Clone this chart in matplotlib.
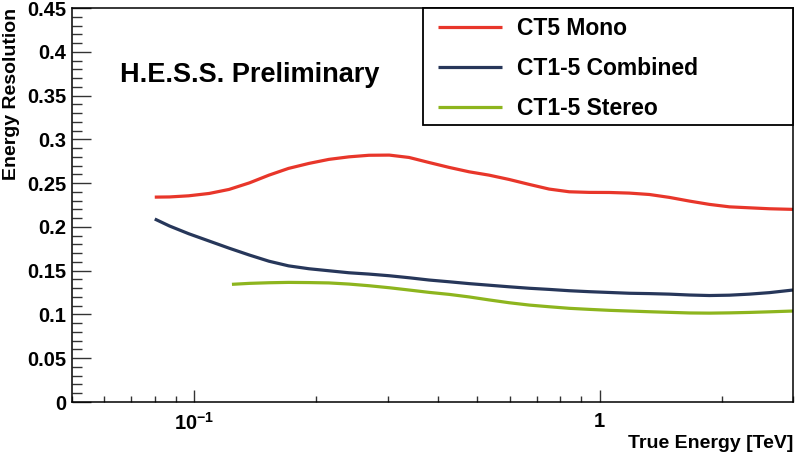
import matplotlib
matplotlib.use("Agg")
import matplotlib.pyplot as plt
from matplotlib.patches import Rectangle
from matplotlib.ticker import LogLocator, FixedLocator, FixedFormatter, NullFormatter, MultipleLocator

plt.rcParams['font.family'] = ['Liberation Sans', 'DejaVu Sans']
plt.rcParams['font.weight'] = 'bold'
plt.rcParams['mathtext.fontset'] = 'custom'
plt.rcParams['mathtext.rm'] = 'Liberation Sans:bold'
plt.rcParams['mathtext.bf'] = 'Liberation Sans:bold'

# true energy (TeV) where the curves were read
energy = [0.080, 0.087, 0.097, 0.109, 0.122, 0.137, 0.153, 0.171, 0.192, 0.215, 0.241,
          0.270, 0.303, 0.339, 0.380, 0.426, 0.477, 0.534, 0.598, 0.671, 0.751, 0.842,
          0.943, 1.057, 1.184, 1.327, 1.486, 1.665, 1.866, 2.091, 2.342, 2.624, 3.0]

# CT5 Mono
mono_r = [0.2340, 0.2342, 0.2355, 0.2382, 0.2428, 0.2503, 0.2591, 0.2668, 0.2725, 0.2771, 0.2800,
          0.2818, 0.2820, 0.2793, 0.2735, 0.2679, 0.2629, 0.2591, 0.2542, 0.2485, 0.2432, 0.2401,
          0.2394, 0.2393, 0.2386, 0.2370, 0.2337, 0.2295, 0.2257, 0.2229, 0.2218, 0.2207, 0.2200]

# CT1-5 Combined
comb_r = [0.2090, 0.2010, 0.1922, 0.1838, 0.1757, 0.1678, 0.1608, 0.1555, 0.1522, 0.1499, 0.1476,
          0.1461, 0.1442, 0.1419, 0.1393, 0.1373, 0.1352, 0.1334, 0.1316, 0.1299, 0.1286, 0.1271,
          0.1260, 0.1251, 0.1242, 0.1238, 0.1232, 0.1222, 0.1216, 0.1220, 0.1232, 0.1249, 0.1279]

# CT1-5 Stereo (starts at higher energy)
ster_e = [0.124, 0.137, 0.153, 0.171, 0.192, 0.215, 0.241, 0.270, 0.303, 0.339, 0.380,
          0.426, 0.477, 0.534, 0.598, 0.671, 0.751, 0.842, 0.943, 1.057, 1.184, 1.327,
          1.486, 1.665, 1.866, 2.091, 2.342, 2.624, 3.0]
ster_r = [0.1344, 0.1355, 0.1362, 0.1366, 0.1364, 0.1360, 0.1347, 0.1328, 0.1305, 0.1279, 0.1252,
          0.1229, 0.1200, 0.1166, 0.1134, 0.1107, 0.1088, 0.1070, 0.1058, 0.1047, 0.1039, 0.1031,
          0.1024, 0.1017, 0.1015, 0.1018, 0.1023, 0.1030, 0.1039]

labels = ["CT5 Mono", "CT1-5 Combined", "CT1-5 Stereo"]
colors = ["#e8362a", "#27375a", "#8db51e"]

W, H = 803, 469
fig = plt.figure(figsize=(W / 100, H / 100), dpi=100)
ax = fig.add_axes([72 / W, 1 - 402 / H, (793 - 72) / W, (402 - 8) / H])

lines = []
for e, r, c, lab in zip([energy, energy, ster_e], [mono_r, comb_r, ster_r], colors, labels):
    ln, = ax.plot(e, r, color=c, lw=2.3, label=lab, solid_capstyle='butt', solid_joinstyle='round')
    lines.append(ln)

ax.set_xscale('log')
ax.set_xlim(0.05, 3.0)
ax.set_ylim(0, 0.45)

ax.xaxis.set_major_locator(FixedLocator([0.1, 1]))
ax.xaxis.set_major_formatter(FixedFormatter([r'$10^{-1}$', '1']))
ax.xaxis.set_minor_locator(LogLocator(base=10, subs=[2, 3, 4, 5, 6, 7, 8, 9]))
ax.xaxis.set_minor_formatter(NullFormatter())

yt = [0, 0.05, 0.1, 0.15, 0.2, 0.25, 0.3, 0.35, 0.4, 0.45]
ax.yaxis.set_major_locator(FixedLocator(yt))
ax.yaxis.set_major_formatter(FixedFormatter(['0', '0.05', '0.1', '0.15', '0.2', '0.25', '0.3', '0.35', '0.4', '0.45']))
ax.yaxis.set_minor_locator(MultipleLocator(0.01))

ax.tick_params(axis='y', which='major', direction='in', length=14, width=1, labelsize=14.5, pad=4, color='#333333')
ax.tick_params(axis='y', which='minor', direction='in', length=7, width=1, color='#333333')
ax.tick_params(axis='x', which='major', direction='in', length=9, width=1, labelsize=14.5, pad=7, color='#333333')
ax.tick_params(axis='x', which='minor', direction='in', length=4.5, width=1, color='#333333')
for lab in ax.get_xticklabels() + ax.get_yticklabels():
    lab.set_fontweight('bold')
for s in ax.spines.values():
    s.set_linewidth(1.1)

fig.text(12 / W, 1 - 8 / H, "Energy Resolution", rotation=90, ha='center', va='top',
         fontsize=14, fontweight='bold')
fig.text(793 / W, 1 - 443 / H, "True Energy [TeV]", ha='right', va='center',
         fontsize=14, fontweight='bold')
fig.text(120 / W, 1 - 82 / H, "H.E.S.S. Preliminary", ha='left', va='baseline',
         fontsize=19.5, fontweight='bold')

box = Rectangle((423 / W, 1 - 125 / H), (793 - 423) / W, (125 - 8) / H,
                transform=fig.transFigure, facecolor='white', edgecolor='black',
                linewidth=1.3, zorder=4)
fig.add_artist(box)
leg = fig.legend(handles=lines, labels=labels, loc='upper left',
                 bbox_to_anchor=(438 / W, 1 - 17 / H), borderaxespad=0, borderpad=0,
                 frameon=False, handlelength=2.8, handletextpad=0.65, labelspacing=0.75,
                 prop={'size': 16.5, 'weight': 'bold'})
leg.set_zorder(5)

fig.savefig("out.png", dpi=100)
